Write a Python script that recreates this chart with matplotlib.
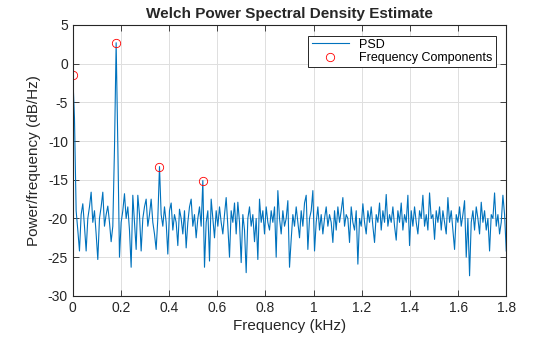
import matplotlib
matplotlib.use("Agg")
import matplotlib.pyplot as plt
import numpy as np

# PSD values (dB/Hz), evenly spaced from 0 to 1.8 kHz
psd_db = [
    -1.5, -7.0, -19.0, -21.5, -24.2, -19.5, -18.1, -21.0, -24.2, -20.0,
    -18.5, -16.6, -20.5, -19.0, -22.0, -25.3, -20.0, -18.5, -16.6, -21.0,
    -19.5, -18.4, -20.5, -23.0, -21.0, -11.0, 2.7, -10.5, -25.0, -20.5,
    -19.0, -16.8, -20.0, -18.5, -21.5, -26.3, -17.0, -20.5, -24.0, -17.0,
    -19.5, -24.2, -20.0, -18.5, -17.5, -21.0, -19.5, -17.5, -20.5, -22.0,
    -24.0, -20.0, -13.3, -19.5, -21.0, -18.5, -20.5, -24.6, -19.0, -18.0,
    -21.5, -19.5, -20.5, -23.5, -18.8, -20.0, -22.0, -19.0, -23.8, -20.5,
    -18.5, -17.5, -21.0, -19.5, -22.5, -20.0, -18.5, -21.0, -15.1, -26.3,
    -20.5, -19.0, -25.5, -17.5, -20.0, -22.5, -19.0, -21.0, -18.5, -20.5,
    -22.0, -19.5, -17.3, -21.0, -25.0, -19.0, -20.5, -18.0, -22.0, -17.9,
    -20.5, -25.7, -19.5, -21.5, -27.0, -20.0, -18.5, -21.0, -19.5, -23.0,
    -20.0, -25.3, -17.5, -20.5, -19.0, -22.0, -18.5, -20.5, -21.5, -19.0,
    -20.5, -18.5, -25.0, -16.4, -20.0, -22.0, -19.0, -21.0, -20.0, -17.7,
    -26.3, -22.7, -19.5, -21.0, -18.5, -20.5, -22.5, -19.0, -21.0, -18.0,
    -17.0, -24.0, -20.0, -19.0, -16.4, -24.2, -20.5, -18.5, -21.5, -19.5,
    -22.0, -20.0, -18.5, -21.0, -19.5, -20.5, -23.1, -19.0, -21.5, -18.5,
    -20.5, -19.0, -17.3, -21.0, -19.5, -20.0, -23.1, -18.5, -20.5, -21.5,
    -19.0, -25.9, -20.0, -21.0, -18.1, -20.5, -22.0, -19.0, -20.5, -18.5,
    -21.0, -23.1, -19.5, -20.5, -18.0, -21.5, -19.0, -20.5, -16.9, -21.0,
    -19.5, -20.5, -18.5, -21.0, -22.8, -19.0, -20.5, -18.0, -21.5, -19.5,
    -20.5, -17.0, -23.5, -19.0, -21.0, -18.5, -20.5, -22.0, -19.0, -20.0,
    -17.0, -21.0, -19.5, -21.5, -16.7, -20.0, -19.5, -22.7, -19.0, -20.5,
    -18.5, -21.5, -19.0, -20.5, -22.0, -17.3, -20.5, -19.0, -21.5, -24.0,
    -19.5, -20.5, -18.5, -21.0, -19.5, -17.7, -25.0, -20.0, -27.4, -20.5,
    -19.0, -21.5, -18.5, -20.0, -22.0, -17.9, -20.5, -19.0, -21.5, -20.0,
    -24.2, -19.5, -20.0, -16.7, -21.0, -19.5, -22.0, -20.5, -17.0, -19.5,
    -24.2,
]
freq_khz = np.linspace(0, 1.8, len(psd_db))

# detected frequency components
peak_khz = [0.0, 0.18, 0.36, 0.54]
peak_db = [-1.5, 2.7, -13.3, -15.1]

plt.rcParams["font.family"] = ["Liberation Sans", "DejaVu Sans"]
plt.rcParams["axes.unicode_minus"] = False
txt = "#262626"

fig = plt.figure(figsize=(5.6, 3.37), dpi=100)
ax = fig.add_axes([0.130, 0.122, 0.774, 0.804])

ax.plot(freq_khz, psd_db, color="#0072BD", lw=0.8, label="PSD")
ax.plot(peak_khz, peak_db, "o", mfc="none", mec="#FF0000", mew=0.6, ms=6,
        label="Frequency Components")

ax.set_xlim(0, 1.8)
ax.set_ylim(-30, 5)
ax.set_xticks(np.arange(0, 1.81, 0.2))
ax.set_xticklabels(["0", "0.2", "0.4", "0.6", "0.8", "1", "1.2", "1.4", "1.6", "1.8"])
ax.set_yticks(np.arange(-30, 6, 5))
ax.grid(True, color="#dfdfdf", lw=0.7)
ax.tick_params(direction="in", top=True, right=True, labelsize=10, colors=txt,
               length=4, width=0.6)
for s in ax.spines.values():
    s.set_color(txt)
    s.set_linewidth(0.8)

ax.set_xlabel("Frequency (kHz)", fontsize=11, color=txt, labelpad=3)
ax.set_ylabel("Power/frequency (dB/Hz)", fontsize=11, color=txt, labelpad=5)
ax.set_title("Welch Power Spectral Density Estimate", fontsize=11, fontweight="bold",
             color=txt, pad=5)

leg = ax.legend(loc="upper right", fontsize=9, frameon=True, fancybox=False,
                edgecolor=txt, framealpha=1, borderpad=0.25, handlelength=3.0,
                labelspacing=0.1, borderaxespad=0.85)
leg.get_frame().set_linewidth(0.7)

fig.savefig("out.png", dpi=100)
